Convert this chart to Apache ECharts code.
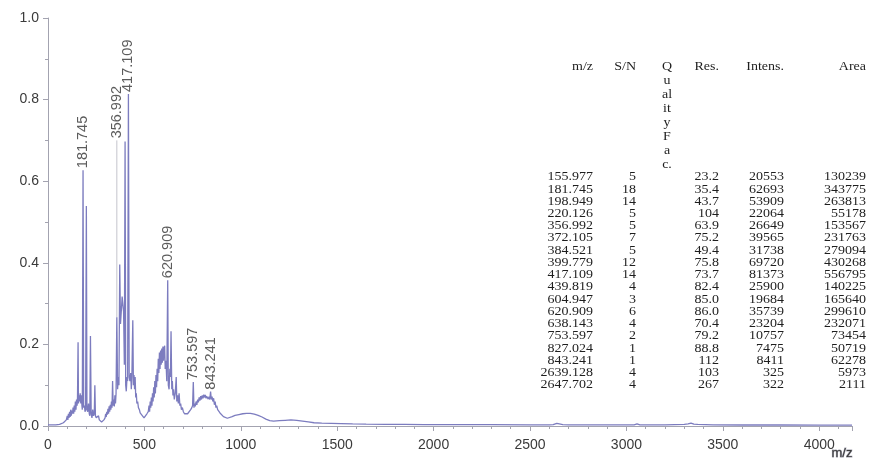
<!DOCTYPE html>
<html>
<head>
<meta charset="utf-8">
<script src="https://cdn.jsdelivr.net/npm/echarts@6/dist/echarts.min.js"></script>
<style>
  html, body { margin: 0; padding: 0; background: #fff; }
  #chart { width: 869px; height: 466px; }
</style>
</head>
<body>
<div id="chart"></div>
<script>
// MALDI-TOF mass spectrum with its peak list.

// Peak list (as printed in the table)
const tableMz = ['155.977','181.745','198.949','220.126','356.992','372.105','384.521','399.779','417.109',
  '439.819','604.947','620.909','638.143','753.597','827.024','843.241','2639.128','2647.702'];
const tableSN = ['5','18','14','5','5','7','5','12','14','4','3','6','4','2','1','1','4','4'];
const tableRes = ['23.2','35.4','43.7','104','63.9','75.2','49.4','75.8','73.7','82.4','85.0','86.0','70.4',
  '79.2','88.8','112','103','267'];
const tableIntens = ['20553','62693','53909','22064','26649','39565','31738','69720','81373','25900','19684',
  '35739','23204','10757','7475','8411','325','322'];
const tableArea = ['130239','343775','263813','55178','153567','231763','279094','430268','556795','140225',
  '165640','299610','232071','73454','50719','62278','5973','2111'];
const tableHeaders = ['m/z', 'S/N', 'Q', 'Res.', 'Intens.', 'Area'];
const qualityHeader = ['Q', 'u', 'al', 'it', 'y', 'F', 'a', 'c.'];

// Spectrum trace: [m/z, intensity (counts)]
const spectrumPoints = [
  [0,300],[40,300],[60,400],[80,800],[95,1500],[100,2500],[103,1500],[106,3000],[109,2000],[112,3500],
  [115,2200],[118,4000],[121,2500],[124,3800],[127,3000],[130,4500],[133,3000],[136,5000],[139,3500],
  [142,6000],[145,4000],[148,6500],[151,5000],[153,7000],[155.977,20553],[158,5500],[161,7500],[164,6000],
  [167,8000],[170,5500],[173,7500],[176,5000],[178,4000],[181.745,62693],[185,4500],[189,5000],[192,3500],
  [195,4000],[198.949,53909],[202,4000],[206,3500],[210,5500],[214,3000],[217,2500],[220.126,22064],
  [224,3000],[228,2000],[232,4000],[236,2500],[240,3000],[243,10000],[246,2500],[250,2000],[256,1800],
  [262,2500],[266,1500],[272,1200],[278,1000],[284,1200],[290,1500],[296,2000],[299,3000],[302,2200],
  [305,3500],[308,2800],[311,4200],[314,3000],[317,4800],[320,3500],[323,5200],[326,4000],[329,6000],
  [332,4500],[335,11000],[338,5000],[341,6500],[344,4800],[347,7500],[350,5500],[353,8000],[356.992,26649],
  [361,9000],[365,12000],[368,10000],[372.105,39565],[376,25000],[380,28000],[384.521,31738],[388,30000],
  [392,28000],[396,15000],[399.779,69720],[403,10000],[406,8500],[410,12000],[413,11000],[417.109,81373],
  [421,12000],[425,11000],[429,13000],[432,9000],[435,12000],[439.819,25900],[443,10000],[446,12500],
  [449,9000],[452,12000],[455,7000],[458,8000],[461,5500],[465,6000],[469,4500],[474,4000],[478,3200],
  [483,3500],[488,2600],[493,2800],[498,2000],[503,2400],[508,2100],[513,3000],[517,2600],[520,3500],
  [524,5000],[527,3500],[530,6000],[533,4500],[536,7000],[539,5000],[542,8000],[545,6000],[548,9500],
  [551,7000],[554,11000],[557,8000],[560,12500],[563,9500],[566,14000],[569,11000],[572,16500],[575,13000],
  [578,18000],[581,14000],[584,18500],[587,15000],[590,19000],[593,15500],[596,19500],[599,16000],
  [602,19000],[604.947,19684],[608,14000],[612,16000],[616,11000],[620.909,35739],[624,10000],[628,9000],
  [632,14000],[635,12000],[638.143,23204],[642,9000],[645,11000],[648,7500],[651,9000],[655,6500],
  [660,8000],[665,12000],[668,6000],[672,7500],[676,5500],[680,8000],[684,5000],[688,5500],[692,4000],
  [697,4500],[702,3500],[708,3000],[716,2800],[724,3000],[732,3200],[740,4000],[746,4500],[750,5000],
  [753.597,10757],[757,4500],[760,5500],[764,4800],[768,6000],[772,5200],[776,6500],[780,5800],[784,7000],
  [788,6200],[792,7300],[796,6500],[800,7500],[804,6800],[808,7700],[812,7000],[816,7600],[820,6800],
  [823,7300],[827.024,7475],[831,6600],[835,7200],[839,6500],[843.241,8411],[847,6500],[851,7200],
  [855,6000],[859,6800],[863,5200],[867,6000],[871,4500],[875,5000],[880,4000],[885,3800],[892,3200],
  [900,2800],[910,2300],[920,2000],[930,1900],[940,2000],[955,2300],[970,2600],[990,2800],[1010,3000],
  [1030,3100],[1050,3100],[1070,2900],[1090,2600],[1110,2200],[1130,1700],[1150,1300],[1170,1200],
  [1200,1300],[1230,1400],[1260,1500],[1290,1400],[1320,1200],[1350,1000],[1380,800],[1420,700],[1470,650],
  [1520,600],[1580,500],[1650,450],[1750,400],[1850,380],[1950,350],[2100,350],[2300,320],[2500,300],
  [2600,300],[2620,320],[2639.128,650],[2647.702,550],[2670,320],[2700,300],[2800,280],[2900,280],
  [3000,260],[3040,300],[3055,500],[3070,280],[3200,280],[3300,400],[3320,500],[3335,700],[3350,450],
  [3370,400],[3450,300],[3600,250],[3800,250],[4000,230],[4170,230]
];

// Peaks annotated on the trace
const labelledPeaks = ['181.745', '356.992', '417.109', '620.909', '753.597', '843.241'];

const FULL_SCALE = 100000;      // 1.0 on the intensity axis
const LEADER_TOP = 70000;       // where the raised 356.992 label sits

const chart = echarts.init(document.getElementById('chart'), null, { renderer: 'canvas' });

const peakLabelData = labelledPeaks.map(mz => {
  const row = tableMz.indexOf(mz);
  const intens = Number(tableIntens[row]);
  const raised = mz === '356.992';
  return { value: [Number(mz), raised ? LEADER_TOP : intens], name: mz };
});

const leaderRow = tableMz.indexOf('356.992');
const leaderData = [[Number(tableMz[leaderRow]), Number(tableIntens[leaderRow])],
                    [Number(tableMz[leaderRow]), LEADER_TOP]];

// Peak table drawn as text
const tableFont = '12.5px "Liberation Serif", "Times New Roman", serif';
const tableColor = '#1e1e1e';
const colRight = [593, 636, null, 719, 784, 866];
const rowTop = 177, rowStep = 12.24;
const tableTexts = [];
function addText(txt, x, y, align) {
  tableTexts.push({
    type: 'text', x: x, y: y, scaleX: 1.12, scaleY: 1,
    silent: true,
    style: { text: txt, font: tableFont, fill: tableColor, align: align, verticalAlign: 'middle' }
  });
}
tableHeaders.forEach((h, c) => {
  if (h === 'Q') return;
  addText(h, colRight[c], 67, 'right');
});
qualityHeader.forEach((q, i) => addText(q, 667, 67 + i * 14, 'center'));
[tableMz, tableSN, null, tableRes, tableIntens, tableArea].forEach((col, c) => {
  if (!col) return;
  col.forEach((v, r) => addText(v, colRight[c], rowTop + r * rowStep, 'right'));
});

const axisColor = '#a3a3b0';
const labelColor = '#3a3a3a';

chart.setOption({
  animation: false,
  backgroundColor: '#ffffff',
  grid: { left: 48, right: 17, top: 18, bottom: 40, containLabel: false },
  xAxis: {
    type: 'value', min: 0, max: 4170, interval: 500, offset: 6,
    axisLine: { show: true, lineStyle: { color: axisColor, width: 1 } },
    axisTick: { show: true, length: 5, lineStyle: { color: axisColor } },
    minorTick: { show: true, splitNumber: 5, length: 3, lineStyle: { color: axisColor } },
    splitLine: { show: false },
    axisLabel: {
      color: labelColor, fontSize: 14, fontFamily: 'Liberation Sans', margin: 6,
      formatter: v => (v % 500 === 0 ? String(v) : '')
    }
  },
  yAxis: {
    type: 'value', min: 0, max: FULL_SCALE, interval: 20000,
    axisLine: { show: true, lineStyle: { color: axisColor, width: 1 } },
    axisTick: { show: true, length: 5, lineStyle: { color: axisColor } },
    minorTick: { show: true, splitNumber: 2, length: 3, lineStyle: { color: axisColor } },
    splitLine: { show: false },
    axisLabel: {
      color: labelColor, fontSize: 14, fontFamily: 'Liberation Sans', margin: 9,
      formatter: v => (v / FULL_SCALE).toFixed(1)
    }
  },
  series: [
    {
      name: 'spectrum', type: 'line', data: spectrumPoints, showSymbol: false, symbol: 'none',
      lineStyle: { color: '#7c7cbf', width: 1.3 }, smooth: false, z: 3
    },
    {
      name: 'leader', type: 'line', data: leaderData, showSymbol: false, symbol: 'none',
      lineStyle: { color: '#c4c4cc', width: 1 }, z: 2
    },
    {
      name: 'peak labels', type: 'scatter', data: peakLabelData, symbolSize: 0.1,
      itemStyle: { color: 'rgba(0,0,0,0)' }, z: 4,
      label: {
        show: true, position: 'top', distance: 2, rotate: 90,
        align: 'left', verticalAlign: 'middle',
        color: '#333', fontSize: 14.5, fontFamily: 'Liberation Sans',
        formatter: p => p.name
      }
    }
  ],
  graphic: [
    {
      type: 'text', left: 831, top: 446, silent: true,
      style: { text: 'm/z', font: '13px "Liberation Sans", Arial, sans-serif', fill: labelColor }
    },
    { type: 'group', children: tableTexts }
  ]
});

// join the intensity axis down to the offset m/z axis
const origin = chart.convertToPixel({ gridIndex: 0 }, [0, 0]);
chart.setOption({
  graphic: [
    {
      type: 'line', silent: true,
      shape: { x1: origin[0] + 0.5, y1: origin[1], x2: origin[0] + 0.5, y2: origin[1] + 6 },
      style: { stroke: axisColor, lineWidth: 1 }
    }
  ]
});
</script>
</body>
</html>
